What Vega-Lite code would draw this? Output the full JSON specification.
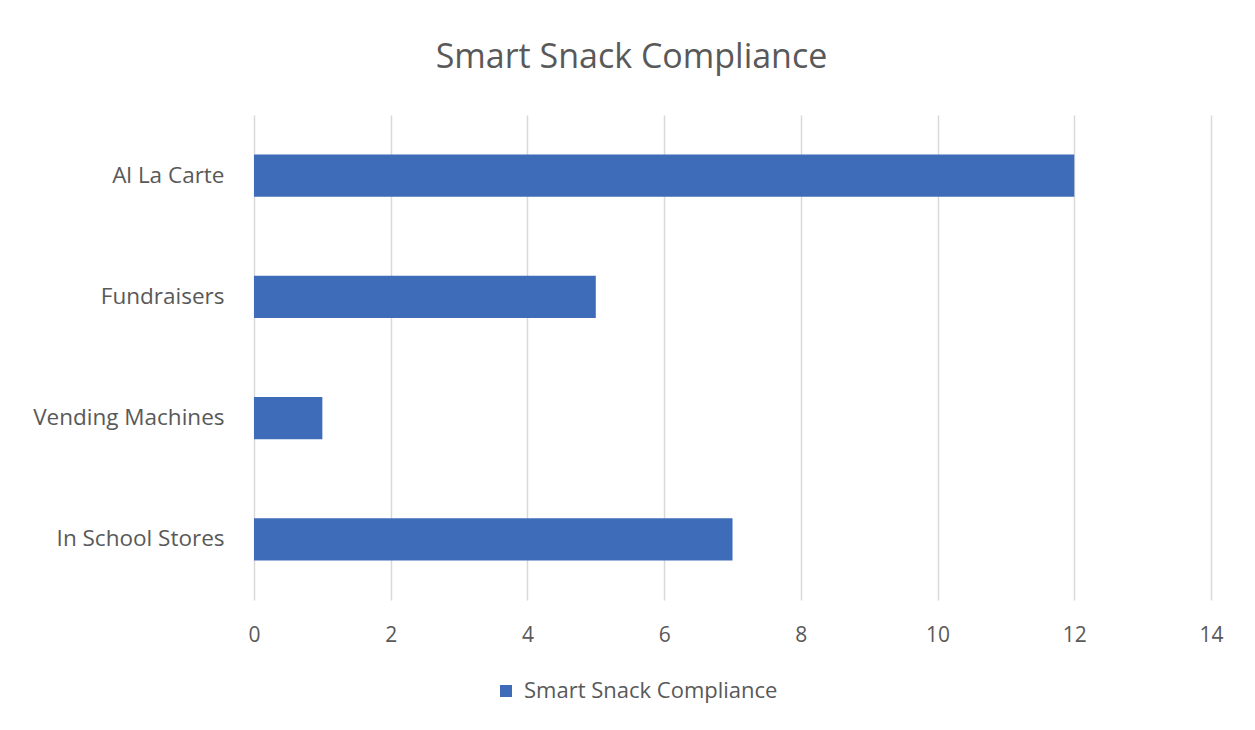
{
  "$schema": "https://vega.github.io/schema/vega-lite/v6.json",
  "autosize": {"type": "none"},
  "width": 957,
  "height": 485,
  "padding": {"left": 254, "top": 115, "right": 44, "bottom": 130},
  "background": "white",
  "title": {
    "text": "Smart Snack Compliance",
    "anchor": "middle",
    "dx": -101,
    "offset": 40,
    "fontSize": 34,
    "fontWeight": "normal",
    "color": "#595959",
    "font": "Open Sans"
  },
  "data": {
    "values": [
      {"category": "Al La Carte", "count": 12, "series": "Smart Snack Compliance"},
      {"category": "Fundraisers", "count": 5, "series": "Smart Snack Compliance"},
      {"category": "Vending Machines", "count": 1, "series": "Smart Snack Compliance"},
      {"category": "In School Stores", "count": 7, "series": "Smart Snack Compliance"}
    ]
  },
  "mark": {"type": "bar"},
  "encoding": {
    "y": {
      "field": "category",
      "type": "nominal",
      "sort": null,
      "scale": {"paddingInner": 0.652, "paddingOuter": 0.326},
      "axis": {
        "title": null,
        "domain": false,
        "ticks": false,
        "grid": false,
        "labelPadding": 30,
        "labelFontSize": 22.5,
        "labelColor": "#595959",
        "labelFont": "Open Sans",
        "labelLimit": 300
      }
    },
    "x": {
      "field": "count",
      "type": "quantitative",
      "scale": {"domain": [0, 14], "nice": false},
      "axis": {
        "title": null,
        "values": [0, 2, 4, 6, 8, 10, 12, 14],
        "domain": false,
        "ticks": false,
        "grid": true,
        "gridColor": "#d9d9d9",
        "gridWidth": 1.5,
        "labelFlush": false,
        "labelOverlap": false,
        "labelPadding": 24,
        "labelFontSize": 21,
        "labelColor": "#595959",
        "labelFont": "Open Sans"
      }
    },
    "color": {
      "field": "series",
      "type": "nominal",
      "scale": {"range": ["#3f6cb8"]},
      "legend": {
        "title": null,
        "orient": "none",
        "legendX": 241,
        "legendY": 565,
        "symbolType": "square",
        "symbolSize": 144,
        "symbolStrokeWidth": 0,
        "labelFontSize": 22,
        "labelColor": "#595959",
        "labelFont": "Open Sans",
        "labelLimit": 400,
        "labelOffset": 7
      }
    }
  },
  "config": {
    "view": {"stroke": null}
  }
}
